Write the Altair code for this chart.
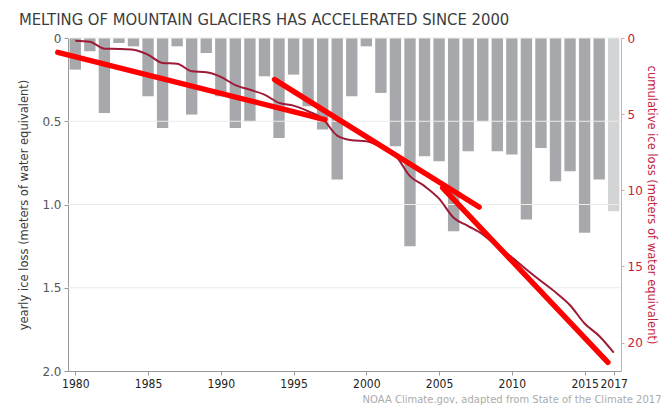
import altair as alt
import pandas as pd

# ---------------- data ----------------
years = list(range(1980, 2018))
yearly_loss = [0.19, 0.08, 0.45, 0.03, 0.05, 0.35, 0.54, 0.05, 0.46, 0.09,
               0.35, 0.54, 0.50, 0.23, 0.60, 0.22, 0.41, 0.55, 0.85, 0.35,
               0.05, 0.33, 0.65, 1.25, 0.71, 0.74, 1.16, 0.68, 0.50, 0.68,
               0.70, 1.09, 0.66, 0.86, 0.80, 1.17, 0.85, 1.04]
cumulative_loss = [0.18, 0.24, 0.70, 0.72, 0.77, 1.10, 1.64, 1.69, 2.19, 2.25,
                   2.55, 3.10, 3.40, 3.72, 4.26, 4.44, 4.81, 5.31, 6.41, 6.71,
                   6.78, 7.15, 7.72, 9.07, 9.73, 10.55, 11.80, 12.35, 12.90, 13.70,
                   14.40, 15.20, 15.96, 16.70, 17.55, 18.75, 19.57, 20.66]
preliminary_year = 2017

grid_values = [0, 0.5, 1.0, 1.5]
x_tick_values = [1980, 1985, 1990, 1995, 2000, 2005, 2010, 2015, 2017]
left_tick_values = [0, 0.5, 1.0, 1.5, 2.0]
right_tick_values = [0, 5, 10, 15, 20]

# hand-drawn red trend segments (year, cumulative loss)
trend_segment = ["A", "A", "B", "B", "C", "C"]
trend_year = [1978.8, 1997.15, 1993.7, 2007.75, 2005.25, 2016.6]
trend_cum = [0.94, 5.36, 2.73, 11.1, 9.84, 21.3]

title_text = "MELTING OF MOUNTAIN GLACIERS HAS ACCELERATED SINCE 2000"
left_title = "yearly ice loss (meters of water equivalent)"
right_title = "cumulative ice loss (meters of water equivalent)"
source_text = "NOAA Climate.gov, adapted from State of the Climate 2017"

# ---------------- tables ----------------
df = pd.DataFrame({"year": years, "yearly": yearly_loss, "cum": cumulative_loss})
grid_df = pd.DataFrame({"g": grid_values})
trend_df = pd.DataFrame({"seg": trend_segment, "ty": trend_year, "tc": trend_cum})

NARROW = "Liberation Sans Narrow, DejaVu Sans Condensed, Arial Narrow, sans-serif"
SANS = "DejaVu Sans, Verdana, sans-serif"
RED_AXIS = "#c4223f"

x_scale = alt.Scale(domain=[1979.5, 2017.5], nice=False, zero=False)
x_axis = alt.Axis(
    values=x_tick_values, format="d", title=source_text,
    titleX=593, titleY=31, titleAlign="right", titleBaseline="alphabetic",
    titleFont=SANS, titleFontSize=10, titleFontWeight="normal", titleColor="#ababab",
    labelFont=NARROW, labelFontSize=12, labelColor="#222222", labelPadding=3,
    labelFlush=False, labelOverlap=False,
    tickSize=4, tickColor="#999999", domainColor="#999999", grid=False,
)

left_scale = alt.Scale(domain=[0, 2], reverse=True, nice=False, zero=True)
left_axis = alt.Axis(
    values=left_tick_values,
    labelExpr="datum.value == 0 ? '0' : format(datum.value, '.1f')",
    title=left_title, titleFont=SANS, titleFontSize=11.5, titleFontWeight="normal",
    titleColor="#3a3a3a", titlePadding=12,
    labelFont=SANS, labelFontSize=12, labelColor="#555555", labelPadding=3,
    tickSize=4, tickColor="#999999", domainColor="#999999", grid=False,
)

right_scale = alt.Scale(domain=[0, 21.87], reverse=True, nice=False, zero=True)
right_axis = alt.Axis(
    orient="right", values=right_tick_values, format="d",
    title=right_title, titleFont=SANS, titleFontSize=11.5, titleFontWeight="normal",
    titleColor=RED_AXIS, titlePadding=3,
    labelFont=SANS, labelFontSize=12, labelColor=RED_AXIS, labelPadding=3,
    tickSize=3, tickColor="#e3a1ad", domainColor="#e3a1ad", grid=False,
)

bars = alt.Chart(df).transform_calculate(
    x0="datum.year - 0.39", x1="datum.year + 0.39"
).mark_bar().encode(
    x=alt.X("x0:Q", scale=x_scale, axis=x_axis),
    x2="x1:Q",
    y=alt.Y("yearly:Q", scale=left_scale, axis=left_axis),
    y2=alt.datum(0),
    color=alt.when(alt.datum.year == preliminary_year)
    .then(alt.value("#d3d4d6"))
    .otherwise(alt.value("#a7a8ab")),
)

grid = alt.Chart(grid_df).mark_rule(color="#ebebeb", strokeWidth=1).encode(
    y=alt.Y("g:Q", scale=left_scale, axis=left_axis)
)

cum_line = alt.Chart(df).mark_line(
    color="#9e1a36", strokeWidth=2, interpolate="monotone"
).encode(
    x=alt.X("year:Q", scale=x_scale, axis=x_axis),
    y=alt.Y("cum:Q", scale=right_scale, axis=right_axis),
)

trend = alt.Chart(trend_df).mark_line(
    color="#ff0000", strokeWidth=5.5, strokeCap="round", clip=False
).encode(
    x=alt.X("ty:Q", scale=x_scale, axis=x_axis),
    y=alt.Y("tc:Q", scale=right_scale, axis=right_axis),
    detail="seg:N",
)

left_layer = alt.layer(bars, grid)
right_layer = alt.layer(cum_line, trend)

chart = alt.layer(left_layer, right_layer).resolve_scale(
    y="independent"
).properties(
    width=553,
    height=333,
    autosize="none",
    padding={"left": 60, "top": 30, "right": 40, "bottom": 34},
    title=alt.TitleParams(
        title_text, anchor="start", frame="bounds", font=NARROW,
        fontSize=16.5, fontWeight="normal", color="#3d3d3d", offset=4,
    ),
).configure_view(stroke=None)

chart.save("out.html", embed_options={"renderer": "svg", "actions": False})
